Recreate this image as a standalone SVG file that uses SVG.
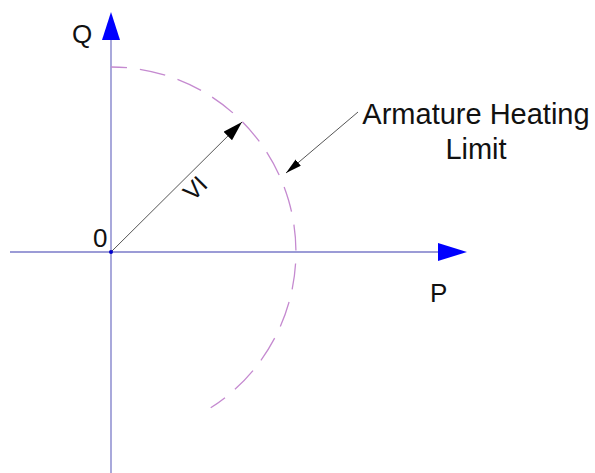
<svg xmlns="http://www.w3.org/2000/svg" width="595" height="473" viewBox="0 0 595 473">
<style>
.axis{stroke:#7a7ac8;stroke-width:1.3;fill:none}
.arrowhead{fill:#0000ff;stroke:none}
.arc{stroke:#c58ad0;stroke-width:1.3;fill:none;stroke-dasharray:26 13;stroke-dashoffset:10}
.vec{stroke:#555;stroke-width:1;fill:none}
.lbl{font-family:"Liberation Sans",Arial,sans-serif;fill:#111}
</style>
<defs>
<marker id="vhead" markerUnits="userSpaceOnUse" markerWidth="22" markerHeight="14" refX="20" refY="6" orient="auto">
<path d="M0,0 L20,6 L0,12 Z" fill="#000"/>
</marker>
<marker id="lhead" markerUnits="userSpaceOnUse" markerWidth="18" markerHeight="10" refX="16" refY="4" orient="auto">
<path d="M0,0 L16,4 L0,8 Z" fill="#000"/>
</marker>
</defs>
<rect width="595" height="473" fill="#fff"/>
<g id="connectors">
<line id="q-axis" class="axis" x1="111" y1="473" x2="111" y2="40"/>
<line id="p-axis" class="axis" x1="10" y1="252" x2="438" y2="252"/>
<polygon class="arrowhead" points="111,12 102,40 120,40"/>
<polygon class="arrowhead" points="467,252 438,243 438,261"/>
<line id="vi-vector" class="vec" x1="111" y1="252" x2="242" y2="122" marker-end="url(#vhead)"/>
<line id="leader" class="vec" x1="358" y1="112" x2="286" y2="173" marker-end="url(#lhead)"/>
</g>
<g id="limit-arc">
<path class="arc" d="M111,67 A185,185 0 0 1 210.7,407.8"/>
</g>
<g id="origin">
<circle cx="111" cy="252" r="2" fill="#0000cc"/>
<text class="lbl" x="93" y="247" font-size="26">0</text>
</g>
<g id="q-label"><text class="lbl" x="72" y="43" font-size="26">Q</text></g>
<g id="p-label"><text class="lbl" x="430" y="302" font-size="26">P</text></g>
<g id="vi-label"><text class="lbl" font-size="24" text-anchor="middle" transform="translate(201,194) rotate(-45)">VI</text></g>
<g id="armature-label">
<text class="lbl" x="476" y="124" font-size="29" text-anchor="middle">Armature Heating</text>
<text class="lbl" x="476" y="159" font-size="29" text-anchor="middle">Limit</text>
</g>
</svg>
